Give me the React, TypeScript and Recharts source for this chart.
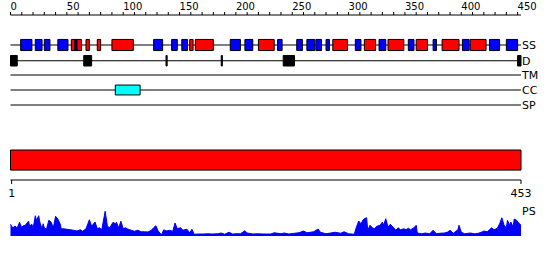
import React from 'react';
import { ComposedChart, AreaChart, Area, XAxis, YAxis, ReferenceArea, ReferenceLine } from 'recharts';

const seqLength = 453;

// top ruler
const topTicks = [
  0, 10, 20, 30, 40, 50, 60, 70, 80, 90, 100, 110, 120, 130, 140, 150, 160, 170, 180, 190,
  200, 210, 220, 230, 240, 250, 260, 270, 280, 290, 300, 310, 320, 330, 340, 350, 360, 370,
  380, 390, 400, 410, 420, 430, 440, 450,
];
const labeledTicks = [0, 50, 100, 150, 200, 250, 300, 350, 400, 450];
const rulerTicks = [1, 453];

// tracks
const trackNames = ['SS', 'D', 'TM', 'CC', 'SP'];
const trackRows = [0, 1.05, 2, 3, 4];

// secondary structure (start, end)
const ssStrands = [
  [9, 19], [22, 28], [30, 35], [42, 51], [57, 59], [127, 135], [143, 148], [152, 157],
  [195, 204], [208, 215], [237, 241], [254, 259], [263, 270], [271, 276], [280, 283],
  [306, 311], [327, 333], [353, 358], [375, 378], [401, 407], [425, 434], [440, 450],
];
const ssHelices = [
  [54, 57], [59, 63], [67, 70], [77, 80], [90, 109], [159, 162], [164, 180], [220, 234],
  [286, 299], [314, 324], [335, 349], [360, 370], [383, 398], [408, 422],
];
const disorder = [[0, 6], [65, 72], [138, 139], [187, 188], [242, 252], [450, 453]];
const coiledCoil = [[93, 115]];

// PS profile
const psPositions = [
  0, 2, 4, 6, 8, 10, 11, 13, 16, 17, 19, 20, 22, 23, 25, 26, 28, 29, 30, 32, 34, 36, 38, 40,
  42, 44, 45, 47, 50, 53, 56, 59, 62, 64, 67, 70, 72, 75, 77, 79, 81, 84, 86, 88, 91, 93, 94,
  96, 98, 100, 102, 104, 107, 110, 113, 116, 119, 122, 125, 127, 129, 131, 134, 136, 138, 141,
  144, 146, 148, 151, 153, 156, 157, 159, 161, 163, 166, 171, 175, 179, 184, 187, 190, 194,
  197, 201, 204, 208, 210, 215, 219, 224, 227, 231, 234, 240, 243, 247, 252, 256, 260, 263,
  266, 269, 273, 275, 280, 284, 288, 293, 296, 300, 305, 307, 309, 311, 313, 314, 316, 317,
  319, 321, 323, 325, 328, 330, 331, 333, 335, 337, 340, 342, 344, 346, 349, 351, 353, 355,
  358, 360, 361, 365, 368, 372, 375, 378, 381, 385, 388, 390, 393, 397, 398, 400, 403, 408,
  412, 415, 418, 420, 423, 425, 427, 429, 432, 434, 436, 438, 440, 441, 443, 444, 446, 447,
  449, 451, 453,
];
const psScores = [
  0.47, 0.32, 0.4, 0.32, 0.55, 0.32, 0.4, 0.43, 0.59, 0.4, 0.47, 0.28, 0.81, 0.63, 0.81, 0.56,
  0.28, 0.49, 0.32, 0.28, 0.63, 0.56, 0.32, 0.79, 0.68, 0.49, 0.29, 0.29, 0.27, 0.25, 0.23,
  0.2, 0.25, 0.19, 0.29, 0.65, 0.39, 0.56, 0.29, 0.33, 0.25, 0.99, 0.39, 0.33, 0.55, 0.49,
  0.55, 0.33, 0.59, 0.29, 0.33, 0.28, 0.23, 0.19, 0.23, 0.17, 0.17, 0.16, 0.23, 0.33, 0.41,
  0.2, 0.05, 0.25, 0.2, 0.23, 0.19, 0.52, 0.29, 0.33, 0.23, 0.27, 0.25, 0.12, 0.27, 0.07,
  0.08, 0.08, 0.09, 0.08, 0.09, 0.12, 0.07, 0.15, 0.08, 0.09, 0.09, 0.21, 0.12, 0.08, 0.09,
  0.08, 0.08, 0.08, 0.13, 0.09, 0.12, 0.08, 0.11, 0.13, 0.2, 0.13, 0.15, 0.17, 0.28, 0.15,
  0.09, 0.12, 0.15, 0.11, 0.17, 0.09, 0.07, 0.36, 0.6, 0.49, 0.65, 0.69, 0.73, 0.23, 0.43,
  0.33, 0.29, 0.39, 0.43, 0.56, 0.43, 0.69, 0.36, 0.47, 0.33, 0.23, 0.33, 0.25, 0.29, 0.25,
  0.31, 0.25, 0.33, 0.43, 0.12, 0.09, 0.12, 0.09, 0.23, 0.09, 0.11, 0.12, 0.16, 0.23, 0.11,
  0.25, 0.43, 0.15, 0.09, 0.12, 0.09, 0.11, 0.15, 0.2, 0.17, 0.25, 0.33, 0.25, 0.31, 0.49,
  0.73, 0.43, 0.33, 0.63, 0.43, 0.56, 0.36, 0.68, 0.63, 0.52, 0.43,
];

const psData = psPositions.map((pos, i) => ({ pos, score: psScores[i] }));
const rulerData = rulerTicks.map((pos) => ({ pos }));

const margin = { top: 0, right: 29, bottom: 0, left: 10.5 };

const TopTick = (props: any) => {
  const { x, y, payload } = props;
  if (!labeledTicks.includes(payload.value)) return null;
  return (
    <text x={x} y={y} textAnchor="start" fontSize={10} fill="#000">
      {payload.value}
    </text>
  );
};

const box = (key: string, r: number[], row: number, half: number, color: string) => (
  <ReferenceArea
    key={key}
    xAxisId="top"
    yAxisId="rows"
    x1={r[0]}
    x2={r[1]}
    y1={row - half}
    y2={row + half}
    fill={color}
    fillOpacity={1}
    stroke="#000"
    strokeWidth={1}
    ifOverflow="visible"
  />
);

export default function App() {
  return (
    <div
      style={{
        position: 'absolute',
        left: 0,
        top: 0,
        width: 550,
        height: 260,
        background: '#fff',
        fontFamily: '"DejaVu Sans", sans-serif',
      }}
    >
      <div style={{ position: 'absolute', left: 0, top: 0 }}>
        <ComposedChart width={550} height={200} data={rulerData} margin={margin}>
          <XAxis
            xAxisId="top"
            orientation="top"
            type="number"
            dataKey="pos"
            domain={[0, seqLength]}
            ticks={topTicks}
            interval={0}
            height={15}
            tickSize={3}
            tickMargin={2}
            stroke="#000"
            tick={TopTick}
            allowDataOverflow
          />
          <XAxis
            xAxisId="ruler"
            orientation="bottom"
            type="number"
            dataKey="pos"
            domain={[0, seqLength]}
            ticks={rulerTicks}
            interval={0}
            height={20}
            tickSize={4}
            tickMargin={5}
            stroke="#000"
            tick={{ fill: '#000', fontSize: 11 }}
          />
          <YAxis yAxisId="rows" hide type="number" domain={[-2, 9]} reversed allowDataOverflow />

          {/* track lines */}
          {trackNames.map((name, i) => (
            <ReferenceArea
              key={name}
              xAxisId="top"
              yAxisId="rows"
              x1={0}
              x2={seqLength}
              y1={trackRows[i] - 0.5 / 15}
              y2={trackRows[i] + 0.5 / 15}
              fill="#000"
              fillOpacity={1}
              stroke="none"
              ifOverflow="visible"
              label={{ value: name, position: 'right', offset: 1, fill: '#000', fontSize: 11 }}
            />
          ))}

          {ssStrands.map((r, i) => box('s' + i, r, trackRows[0], 0.37, '#0000ff'))}
          {ssHelices.map((r, i) => box('h' + i, r, trackRows[0], 0.37, '#ff0000'))}
          {disorder.map((r, i) => box('d' + i, r, trackRows[1], 0.35, '#000000'))}
          {coiledCoil.map((r, i) => box('c' + i, r, trackRows[3], 0.33, '#00ffff'))}

          {/* full-length sequence bar */}
          {box('seq', [0, seqLength], 7.67, 0.67, '#ff0000')}
        </ComposedChart>
      </div>
      <div style={{ position: 'absolute', left: 0, top: 200 }}>
        <AreaChart width={550} height={60} data={psData} margin={{ ...margin, top: 11, bottom: 24 }}>
          <XAxis type="number" dataKey="pos" domain={[0, seqLength]} hide />
          <YAxis hide type="number" domain={[0, 1]} />
          <Area
            dataKey="score"
            type="linear"
            stroke="#0000ff"
            strokeWidth={1}
            fill="#0000ff"
            fillOpacity={1}
            dot={false}
            activeDot={false}
            isAnimationActive={false}
          />
          <ReferenceLine
            y={1}
            stroke="none"
            label={{ value: 'PS', position: 'right', offset: 1, fill: '#000', fontSize: 11 }}
          />
        </AreaChart>
      </div>
    </div>
  );
}
